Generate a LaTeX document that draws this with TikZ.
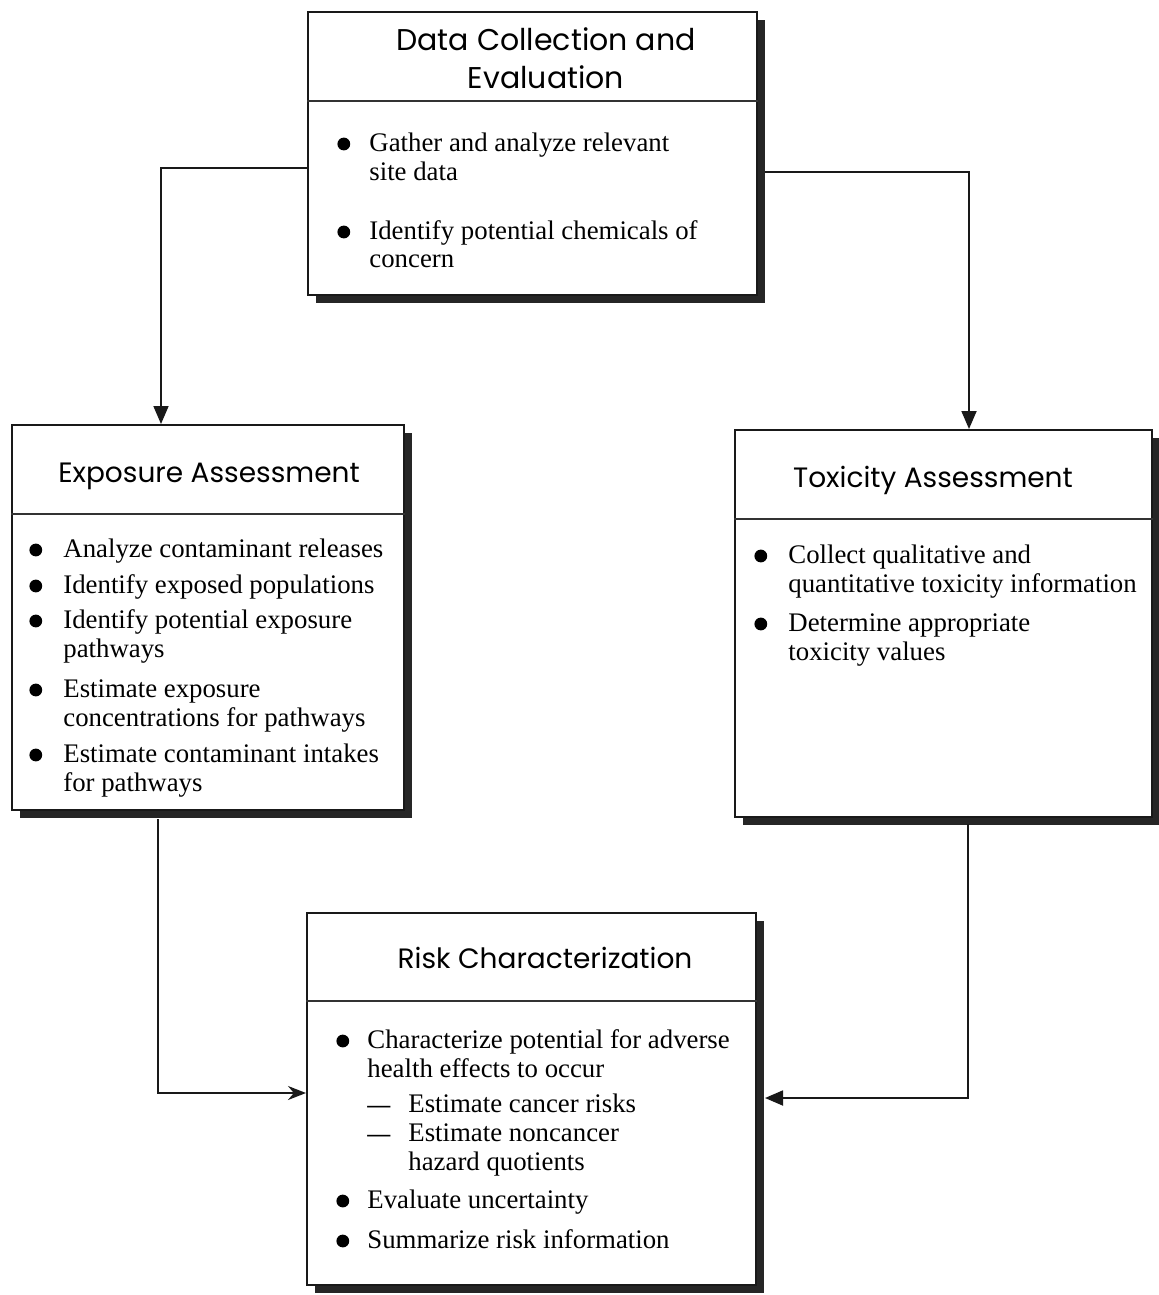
\documentclass[tikz,border=0pt]{standalone}
\usepackage{fontspec}
\usepackage{graphicx}
\setmainfont{Liberation Serif}
\newfontfamily\titlefont{Poppins}
\usetikzlibrary{arrows.meta,shadows}
\newcommand{\bl}[1]{\makebox[#1][l]{\raisebox{0.3pt}{\tikz\fill (0pt,0pt) circle (3.2pt);}}}
\newcommand{\dsh}{\makebox[20.5pt][l]{\fontsize{11.5}{14.5}\selectfont\bfseries ---}}
\begin{document}
\begin{tikzpicture}[x=0.5pt,y=-0.5pt,
  box/.style={draw=black!90, line width=1pt, fill=white, rectangle, inner sep=0pt,
    drop shadow={shadow xshift=4pt, shadow yshift=-4pt, fill=black!85, opacity=1}},
  ttl/.style={font=\titlefont\fontsize{14}{19}\selectfont, anchor=base, inner sep=0pt},
  body/.style={font=\fontsize{13.4}{14.5}\selectfont, anchor=base west, inner sep=0pt},
  divider/.style={draw=black!80, line width=0.7pt},
  conn/.style={draw=black!90, line width=0.9pt},
  downtip/.style={-{Triangle[length=9pt,width=7.5pt]}},
  sidetip/.style={-{Stealth[length=9pt,width=7pt]}},
]
\useasboundingbox (0,0) rectangle (1158,1295);
\fill[white] (0,0) rectangle (1158,1295);

% Data Collection and Evaluation
\node[box, minimum width=224.5pt, minimum height=141.5pt] (dce) at (532.5,153.5) {};
\draw[divider] ([yshift=-45pt]dce.north west) -- ([yshift=-45pt]dce.north east);
\node[ttl, font=\titlefont\fontsize{15}{19}\selectfont] (dcet) at (546,51) {\begin{tabular}[t]{@{}c@{}}Data Collection and\\Evaluation\end{tabular}};
\node[body] (dceb) at (337,151) {\begin{tabular}[t]{@{}l@{}l@{}}
\bl{16pt}&Gather and analyze relevant\\
&site data\\[15pt]
\bl{16pt}&Identify potential chemicals of\\
&concern
\end{tabular}};

% Exposure Assessment
\node[box, minimum width=196pt, minimum height=192.5pt] (exa) at (208,617.5) {};
\draw[divider] ([yshift=-45pt]exa.north west) -- ([yshift=-45pt]exa.north east);
\node[ttl] (exat) at (209,482) {Exposure Assessment};
\node[body] (exab) at (29,557) {\begin{tabular}[t]{@{}l@{}l@{}}
\bl{17pt}&Analyze contaminant releases\\[3.5pt]
\bl{17pt}&Identify exposed populations\\[3pt]
\bl{17pt}&Identify potential exposure\\
&pathways\\[5.5pt]
\bl{17pt}&Estimate exposure\\
&concentrations for pathways\\[3.5pt]
\bl{17pt}&Estimate contaminant intakes\\
&for pathways
\end{tabular}};

% Toxicity Assessment
\node[box, minimum width=208.5pt, minimum height=193.5pt] (tox) at (943.5,623.5) {};
\draw[divider] ([yshift=-45pt]tox.north west) -- ([yshift=-45pt]tox.north east);
\node[ttl] (toxt) at (933,487) {Toxicity Assessment};
\node[body] (toxb) at (754,563) {\begin{tabular}[t]{@{}l@{}l@{}}
\bl{17pt}&Collect qualitative and\\
&quantitative toxicity information\\[5pt]
\bl{17pt}&Determine appropriate\\
&toxicity values
\end{tabular}};

% Risk Characterization
\node[box, minimum width=224.5pt, minimum height=186pt] (rc) at (531.5,1099) {};
\draw[divider] ([yshift=-44.5pt]rc.north west) -- ([yshift=-44.5pt]rc.north east);
\node[ttl] (rct) at (545,968) {Risk Characterization};
\node[body] (rcb) at (336,1048) {\begin{tabular}[t]{@{}l@{}l@{}}
\bl{15.5pt}&Characterize potential for adverse\\
&health effects to occur\\[3pt]
&\dsh Estimate cancer risks\\
&\dsh Estimate noncancer\\
&\hspace*{20.5pt}hazard quotients\\[4.5pt]
\bl{15.5pt}&Evaluate uncertainty\\[5.5pt]
\bl{15.5pt}&Summarize risk information
\end{tabular}};

% Connectors
\draw[conn, downtip] ([yshift=-7.25pt]dce.west) -| ([xshift=-23.5pt]exa.north);
\draw[conn, downtip] ([xshift=3.5pt,yshift=-9.25pt]dce.east) -| ([xshift=12.75pt]tox.north);
\draw[conn, sidetip] ([xshift=-25pt,yshift=-4pt]exa.south) |- ([yshift=3pt]rc.west);
\draw[conn, downtip] ([xshift=12.25pt,yshift=-3pt]tox.south) |- ([xshift=4pt,yshift=0.5pt]rc.east);
\end{tikzpicture}
\end{document}
